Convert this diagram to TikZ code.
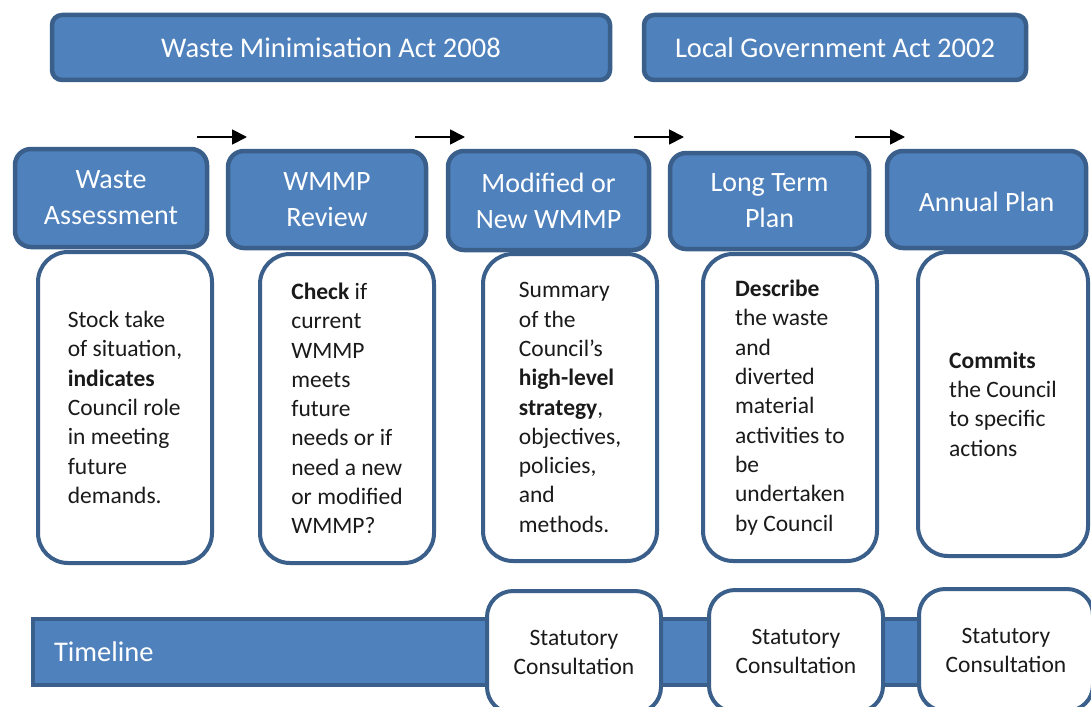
\documentclass[tikz,border=0pt]{standalone}
\usepackage{fontspec}
\setmainfont{Carlito}
\usetikzlibrary{arrows.meta}
\definecolor{planfill}{HTML}{4F81BD}
\definecolor{planedge}{HTML}{3A5F8B}
\definecolor{bodyink}{HTML}{1A1A1A}
\begin{document}
\begin{tikzpicture}[x=1pt,y=-1pt,
  actbox/.style={draw=planedge, fill=planfill, line width=4.5pt, rounded corners=10pt,
    text=white, font=\fontsize{28.5}{36}\selectfont, inner sep=0pt},
  headbox/.style={draw=planedge, fill=planfill, line width=4.5pt, rounded corners=16pt,
    text=white, align=center, font=\fontsize{28}{36}\selectfont, inner sep=0pt,
    execute at begin node={\rule{0pt}{25pt}}},
  notebox/.style={draw=planedge, fill=white, line width=4pt, rounded corners=30pt,
    align=left, text=bodyink, font=\fontsize{23.5}{29.3}\selectfont, inner sep=0pt},
  consult/.style={draw=planedge, fill=white, line width=4pt, rounded corners=26pt,
    align=center, text=bodyink, font=\fontsize{23.5}{29}\selectfont, inner sep=0pt,
    minimum width=174pt, minimum height=122pt},
  barbox/.style={draw=planedge, fill=planfill, line width=4pt, text=white,
    font=\fontsize{28.5}{34}\selectfont, align=left, inner xsep=21pt, inner ysep=0pt,
    minimum height=66pt},
  flow/.style={line width=1.8pt, -{Triangle[length=15pt,width=15pt]}}
]
\useasboundingbox (0,0) rectangle (1091,706);
\clip (0,0) rectangle (1091,706);

% Governing acts
\node[actbox, minimum width=558pt, minimum height=65pt] (wma) at (331,47.5) {Waste Minimisation Act 2008};
\node[actbox, minimum width=382pt, minimum height=65pt] (lga) at (835,47.5) {Local Government Act 2002};

% Process stages
\node[headbox, minimum width=192pt, minimum height=98pt] (h1) at (111,198) {Waste\\Assessment};
\node[headbox, minimum width=198pt, minimum height=97pt] (h2) at (327,199.5) {WMMP\\Review};
\node[headbox, minimum width=201pt, minimum height=99pt] (h3) at (548.5,200.5) {Modified or\\New WMMP};
\node[headbox, minimum width=199pt, minimum height=96pt] (h4) at (769.5,201) {Long Term\\Plan};
\node[headbox, minimum width=199pt, minimum height=97pt] (h5) at (986.5,199.5) {Annual Plan};

% Stage descriptions
\node[notebox, minimum width=174pt, minimum height=311pt] (n1) at (125,407.5)
  {Stock take\\of situation,\\\textbf{indicates}\\Council role\\in meeting\\future\\demands.};
\node[notebox, minimum width=174pt, minimum height=309pt] (n2) at (347,408.5)
  {\textbf{Check} if\\current\\WMMP\\meets\\future\\needs or if\\need a new\\or modified\\WMMP?};
\node[notebox, minimum width=174pt, minimum height=307pt] (n3) at (570,407.5)
  {Summary\\of the\\Council’s\\\textbf{high-level}\\\textbf{strategy},\\objectives,\\policies,\\and\\methods.};
\node[notebox, minimum width=174pt, minimum height=307pt] (n4) at (790,407.5)
  {\textbf{Describe}\\the waste\\and\\diverted\\material\\activities to\\be\\undertaken\\by Council};
\node[notebox, minimum width=170pt, minimum height=304pt] (n5) at (1003,404)
  {\textbf{Commits}\\the Council\\to specific\\actions};

% Sequence arrows
\coordinate (a1s) at (197,137); \coordinate (a1e) at (247,137);
\coordinate (a2s) at (415,137); \coordinate (a2e) at (465,137);
\coordinate (a3s) at (634,137); \coordinate (a3e) at (684,137);
\coordinate (a4s) at (855,137); \coordinate (a4e) at (905,137);
\draw[flow] (a1s) -- (a1e);
\draw[flow] (a2s) -- (a2e);
\draw[flow] (a3s) -- (a3e);
\draw[flow] (a4s) -- (a4e);

% Timeline with consultation points
\node[barbox, text width=1050pt, anchor=west] (timeline) at (31,651.5) {Timeline};
\node[consult] (c1) at (574,652) {Statutory\\Consultation};
\node[consult] (c2) at (796,651) {Statutory\\Consultation};
\node[consult] (c3) at (1006,650) {Statutory\\Consultation};
\end{tikzpicture}
\end{document}
